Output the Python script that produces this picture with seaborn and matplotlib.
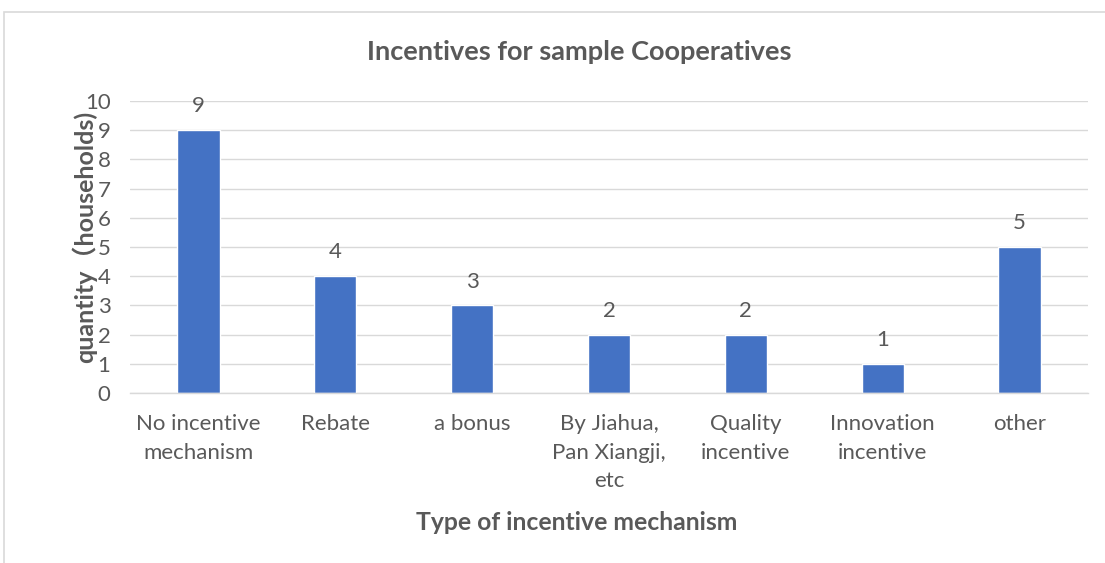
import matplotlib
matplotlib.use("Agg")
import matplotlib.pyplot as plt
import seaborn as sns
import pandas as pd
from matplotlib.patches import Rectangle

categories = ["No incentive\nmechanism", "Rebate", "a bonus", "By Jiahua,\nPan Xiangji,\netc",
              "Quality\nincentive", "Innovation\nincentive", "other"]
values = [9, 4, 3, 2, 2, 1, 5]
yticks = [0, 1, 2, 3, 4, 5, 6, 7, 8, 9, 10]

sns.set_theme(style="white")
plt.rcParams['font.family'] = ['Lato', 'Noto Sans CJK SC', 'DejaVu Sans']

gray = "#595959"
fig = plt.figure(figsize=(11.05, 5.63), dpi=100)
ax = fig.add_axes([130/1105, 1-393/563, (1088-130)/1105, (393-101)/563])

df = pd.DataFrame({"cat": categories, "val": values})
sns.barplot(data=df, x="cat", y="val", color="#4472C4", width=0.31, ax=ax, saturation=1)

ax.set_ylim(0, 10)
ax.set_yticks(yticks)
ax.set_yticklabels([str(t) for t in yticks], fontsize=16, color=gray)
ax.tick_params(axis='y', length=0, pad=14)
ax.tick_params(axis='x', length=0, pad=15, labelsize=16, labelcolor=gray)
for lbl in ax.get_xticklabels():
    lbl.set_linespacing(1.55)
    lbl.set_verticalalignment('top')
ax.grid(axis='y', color="#d9d9d9", linewidth=1)
ax.set_axisbelow(True)
for s in ["top", "right", "left"]:
    ax.spines[s].set_visible(False)
ax.spines["bottom"].set_color("#d9d9d9")
ax.spines["bottom"].set_linewidth(1)

for c in ax.containers:
    ax.bar_label(c, labels=[str(v) for v in values], padding=10, fontsize=16, color=gray)

ax.set_xlabel("Type of incentive mechanism", fontsize=17.8, fontweight='bold', color=gray)
ax.xaxis.set_label_coords(0.466, -(523-393)/292)
ax.xaxis.label.set_verticalalignment('center')
ax.set_ylabel("quantity（households)", fontsize=18, fontweight='bold', color=gray)
ax.yaxis.set_label_coords(-(130-97)/958, (393-237)/292)
fig.text(579/1105, 1-52/563, "Incentives for sample Cooperatives", fontsize=19.5, fontweight='bold',
         color=gray, ha='center', va='center')

fig.patches.append(Rectangle((4/1105, -0.1), 1.2, (563-12)/563 + 0.1, transform=fig.transFigure,
                             fill=False, edgecolor="#d9d9d9", linewidth=1.2, zorder=0))

fig.savefig("out.png", dpi=100)
